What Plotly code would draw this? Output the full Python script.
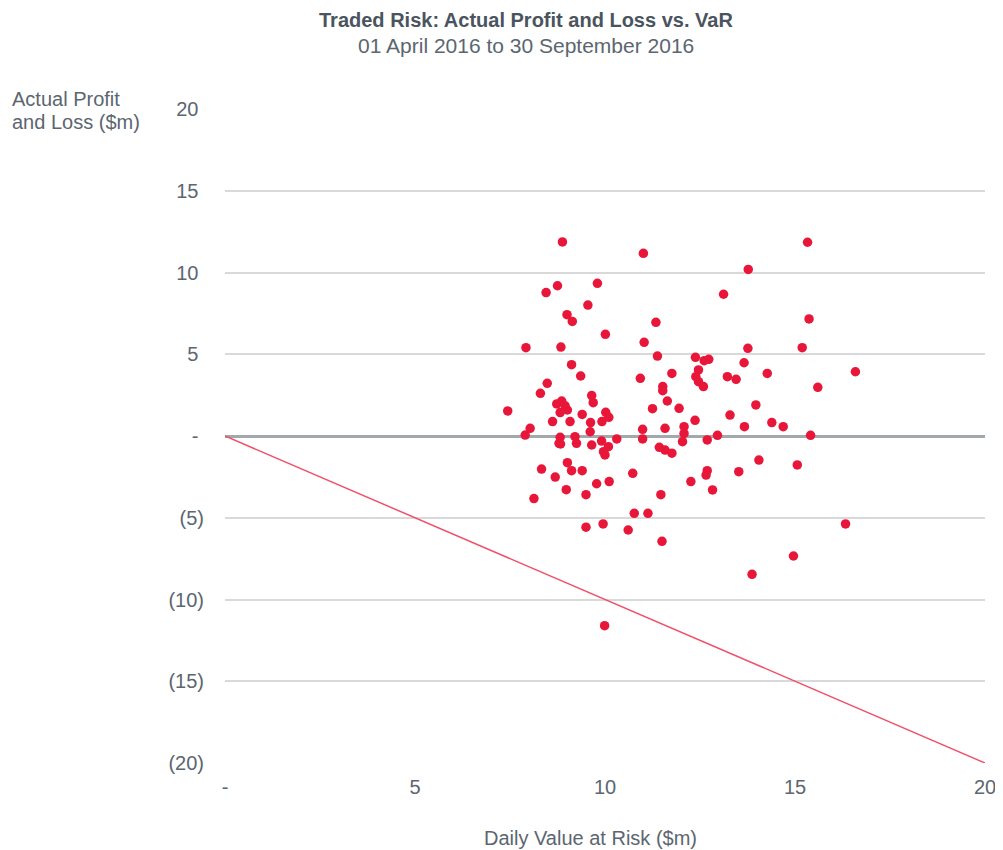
import plotly.graph_objects as go

var_values = [
    8.88, 11.01, 8.75, 8.45, 9.80, 9.55, 9.00, 9.14, 11.34, 10.01, 11.03, 7.92, 8.84, 11.38,
    9.12, 9.36, 10.93, 11.76, 8.48, 8.30, 11.52, 11.52, 11.64, 11.25, 7.44, 9.65, 9.69,
    8.73, 8.86, 8.95, 8.82, 9.01, 9.40, 10.02, 10.10, 8.62, 9.08, 9.62, 9.92, 8.03, 10.99, 11.58,
    9.61, 7.90, 10.99, 8.82, 8.79, 8.83, 9.21, 9.25, 9.65, 9.91, 10.09, 9.96, 10.00, 10.31,
    11.43, 11.58, 11.76, 8.33, 9.01, 9.12, 9.40, 8.69, 10.73, 9.78, 10.11, 8.98, 9.50, 8.13,
    11.47, 10.77, 11.13, 9.50, 9.95, 10.61, 11.50, 9.99,
    15.33, 13.77, 13.12, 15.37, 13.76, 15.19, 12.38, 12.61, 12.73, 13.66, 12.46, 12.39, 12.46,
    12.59, 13.22, 13.45, 14.27, 16.59, 15.60, 11.95, 13.97, 13.29, 12.37, 12.08, 13.67, 14.39,
    14.69, 12.08, 12.04, 12.69, 12.96, 15.41, 14.05, 15.06, 13.52, 12.69, 12.66, 12.26, 12.83,
    16.33, 14.96, 13.87,
]
pnl_values = [
    11.87, 11.17, 9.19, 8.77, 9.34, 8.01, 7.42, 7.01, 6.95, 6.22, 5.73, 5.40, 5.44, 4.89,
    4.36, 3.67, 3.53, 3.83, 3.22, 2.61, 3.02, 2.77, 2.14, 1.67, 1.53, 2.47, 2.04,
    1.96, 2.14, 1.85, 1.43, 1.59, 1.32, 1.45, 1.14, 0.88, 0.88, 0.82, 0.88, 0.47, 0.41, 0.47,
    0.26, 0.06, -0.18, -0.08, -0.45, -0.49, -0.04, -0.45, -0.55, -0.31, -0.65, -0.96, -1.16, -0.18,
    -0.69, -0.86, -1.05, -2.02, -1.63, -2.12, -2.12, -2.51, -2.28, -2.92, -2.79, -3.28, -3.59, -3.83,
    -3.59, -4.73, -4.73, -5.58, -5.38, -5.75, -6.44, -11.60,
    11.85, 10.19, 8.67, 7.16, 5.36, 5.40, 4.81, 4.61, 4.69, 4.48, 4.04, 3.63, 3.32,
    3.02, 3.63, 3.47, 3.83, 3.93, 2.98, 1.69, 1.90, 1.28, 0.96, 0.57, 0.57, 0.82,
    0.57, 0.16, -0.35, -0.24, 0.04, 0.04, -1.47, -1.77, -2.18, -2.12, -2.39, -2.79, -3.30,
    -5.38, -7.34, -8.46,
]

var_line_x = [0, 20]
var_line_y = [0, -20]

x_tick_vals = [0, 5, 10, 15, 20]
x_tick_text = ["-", "5", "10", "15", "20"]
y_tick_vals = [20, 15, 10, 5, 0, -5, -10, -15, -20]
y_tick_text = ["20\u00a0", "15\u00a0", "10\u00a0", "5\u00a0", "-\u00a0", "(5)", "(10)", "(15)", "(20)"]

text_color = "#5b6670"
font_family = "Liberation Sans, Arial, sans-serif"

# page has an 8px body margin; figure is sized to fit the window
OFF = 8
FIG_W, FIG_H = 1003 - OFF, 850 - OFF
L, R, T, B = 225 - OFF, 18, 109 - OFF, FIG_H - (763 - OFF)

fig = go.Figure()
fig.add_trace(go.Scatter(
    x=var_line_x, y=var_line_y, mode="lines",
    line=dict(color="#f0506a", width=1.5), hoverinfo="skip", showlegend=False,
))
fig.add_trace(go.Scatter(
    x=var_values, y=pnl_values, mode="markers",
    marker=dict(color="#e8173a", size=9.5, line=dict(width=0)),
    showlegend=False,
))

plot_w = FIG_W - L - R
plot_h = FIG_H - T - B


def px(xp):
    return (xp - OFF - L) / plot_w


def py(yp):
    return (FIG_H - B - (yp - OFF)) / plot_h


def note(text, x, y, size=20, color=text_color, xanchor="center"):
    return dict(text=text, x=px(x), y=py(y), xref="paper", yref="paper",
                xanchor=xanchor, yanchor="middle", showarrow=False,
                font=dict(size=size, color=color, family=font_family))


fig.update_layout(
    width=FIG_W, height=FIG_H,
    margin=dict(l=L, r=R, t=T, b=B),
    paper_bgcolor="white", plot_bgcolor="white",
    font=dict(family=font_family, color=text_color, size=20),
    xaxis=dict(
        range=[0, 20], tickvals=x_tick_vals, ticktext=x_tick_text,
        showgrid=False, zeroline=False, showline=False, automargin=False,
        ticks="", ticklabelstandoff=10, tickfont=dict(size=20, color=text_color),
    ),
    yaxis=dict(
        range=[-20, 20], tickvals=y_tick_vals, ticktext=y_tick_text,
        showgrid=True, gridcolor="#d9d9d9", gridwidth=2,
        zeroline=True, zerolinecolor="#a3a8ac", zerolinewidth=3,
        showline=False, ticks="", ticklabelstandoff=20, automargin=False,
        tickfont=dict(size=20, color=text_color),
    ),
    annotations=[
        note("<b>Traded Risk: Actual Profit and Loss vs. VaR</b>", 526, 20, size=20, color="#4a545e"),
        note("01 April 2016 to 30 September 2016", 526, 45, size=21),
        note("Actual Profit", 10, 99, xanchor="left"),
        note("and Loss ($m)", 10, 122, xanchor="left"),
        note("Daily Value at Risk ($m)", 590, 838),
    ],
)

fig.write_html("out.html")
